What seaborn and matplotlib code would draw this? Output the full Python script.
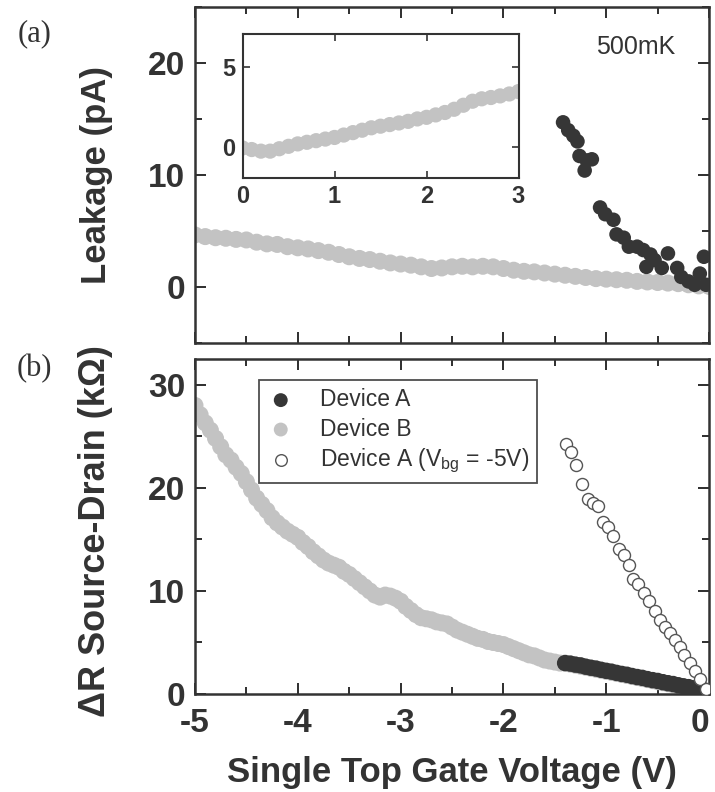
import numpy as np
import matplotlib
matplotlib.use("Agg")
import matplotlib.pyplot as plt
from matplotlib.ticker import MultipleLocator
import seaborn as sns

# ---- data ----
# (a) leakage, device B (gray band)
leak_b_x = np.linspace(-5, 0, 51)
leak_b_y = [4.65, 4.5, 4.4, 4.35, 4.25, 4.2, 4.0, 3.85, 3.8, 3.6,
            3.5, 3.4, 3.25, 3.1, 2.9, 2.7, 2.55, 2.45, 2.3, 2.15,
            2.05, 1.95, 1.8, 1.65, 1.7, 1.8, 1.85, 1.8, 1.85, 1.8,
            1.65, 1.5, 1.4, 1.35, 1.25, 1.15, 1.05, 0.95, 0.85, 0.75,
            0.7, 0.65, 0.6, 0.5, 0.45, 0.4, 0.35, 0.3, 0.2, 0.1, 0.05]

# (a) leakage, device A (dark dots)
leak_a_x = [-1.42, -1.37, -1.32, -1.28, -1.26, -1.19, -1.14, -1.21, -1.06, -1.01,
            -0.93, -0.90, -0.83, -0.78, -0.70, -0.64, -0.57, -0.61, -0.53, -0.46,
            -0.40, -0.31, -0.27, -0.20, -0.14, -0.09, -0.05, -0.03]
leak_a_y = [14.7, 14.0, 13.5, 13.0, 11.7, 11.3, 11.4, 10.4, 7.1, 6.5,
            6.0, 4.7, 4.4, 3.6, 3.6, 3.3, 2.9, 1.8, 2.4, 1.7,
            3.0, 1.7, 0.9, 0.5, 0.2, 1.2, 2.7, 0.2]

# inset: device B leakage at positive gate voltage
ins_x = np.linspace(0, 3, 31)
ins_y = [-0.05, -0.15, -0.25, -0.25, -0.1, 0.05, 0.2, 0.3, 0.4, 0.5,
         0.6, 0.75, 0.9, 1.05, 1.2, 1.3, 1.4, 1.5, 1.6, 1.75,
         1.85, 2.0, 2.15, 2.35, 2.6, 2.85, 3.0, 3.08, 3.18, 3.3, 3.45]

# (b) resistance change, device B
res_b_x = np.linspace(-5, 0, 101)
res_b_y = [28.0, 27.1, 26.3, 25.6, 24.8, 24.0, 23.2, 22.7, 22.0, 21.4,
           20.6, 19.8, 19.0, 18.4, 17.8, 17.1, 16.6, 16.2, 15.8, 15.5,
           15.2, 14.7, 14.3, 13.8, 13.4, 13.0, 12.7, 12.5, 12.3, 11.9,
           11.6, 11.2, 10.8, 10.4, 10.0, 9.6, 9.4, 9.6, 9.5, 9.3,
           9.0, 8.5, 8.1, 7.7, 7.4, 7.3, 7.2, 7.0, 6.9, 6.8,
           6.5, 6.2, 6.0, 5.8, 5.6, 5.4, 5.3, 5.1, 5.0, 4.9,
           4.8, 4.6, 4.4, 4.2, 4.0, 3.8, 3.7, 3.5, 3.3, 3.2,
           3.1, 3.0, 3.0, 2.9, 2.8, 2.7, 2.6, 2.5, 2.4, 2.3,
           2.2, 2.1, 2.0, 1.9, 1.8, 1.7, 1.6, 1.5, 1.4, 1.3,
           1.2, 1.1, 1.0, 0.9, 0.8, 0.7, 0.6, 0.5, 0.4, 0.3, 0.2]

# (b) device A
res_a_x = np.linspace(-1.4, 0, 29)
res_a_y = [3.0, 2.95, 2.85, 2.78, 2.65, 2.55, 2.47, 2.35, 2.25, 2.17,
           2.05, 1.95, 1.87, 1.75, 1.65, 1.57, 1.45, 1.35, 1.27, 1.15,
           1.05, 0.97, 0.85, 0.75, 0.67, 0.55, 0.45, 0.37, 0.25]

# (b) device A, Vbg = -5 V (open circles)
res_a5_x = [-1.39, -1.34, -1.29, -1.24, -1.18, -1.13, -1.08, -1.03, -0.98, -0.93,
            -0.88, -0.83, -0.78, -0.74, -0.69, -0.63, -0.58, -0.53, -0.48, -0.43,
            -0.38, -0.33, -0.28, -0.24, -0.19, -0.14, -0.09, -0.03]
res_a5_y = [24.3, 23.5, 22.2, 20.4, 18.9, 18.5, 18.2, 16.7, 16.2, 15.3,
            14.1, 13.5, 12.5, 11.2, 10.7, 9.8, 9.0, 8.1, 7.2, 6.5,
            5.9, 5.2, 4.6, 3.8, 3.0, 2.2, 1.5, 0.5]

x_ticks = [-5, -4, -3, -2, -1, 0]

DARK = "#363636"
GRAY = "#c3c3c3"
TXT = "#333333"

sns.set_style("ticks")
plt.rcParams["font.family"] = ["Liberation Sans", "DejaVu Sans"]
plt.rcParams["mathtext.fontset"] = "custom"
plt.rcParams["mathtext.rm"] = "Liberation Sans"
plt.rcParams["mathtext.default"] = "regular"
plt.rcParams["axes.unicode_minus"] = False
plt.rcParams["text.color"] = TXT
plt.rcParams["axes.labelcolor"] = TXT
plt.rcParams["xtick.color"] = TXT
plt.rcParams["ytick.color"] = TXT

fig = plt.figure(figsize=(7.15, 7.92), dpi=100)
ax_a = fig.add_axes([0.2727, 0.5669, 0.719, 0.4243])
ax_b = fig.add_axes([0.2727, 0.1237, 0.719, 0.4230])
ax_in = fig.add_axes([0.3392, 0.7756, 0.386, 0.181])


def style_axes(ax, lw=1.8, maj=8, mnr=5, fs=24, pad=7):
    for sp in ax.spines.values():
        sp.set_linewidth(lw)
        sp.set_color(TXT)
        sp.set_visible(True)
    ax.tick_params(which="both", direction="in", top=True, right=True,
                   width=lw * 0.8, color=TXT)
    ax.tick_params(which="major", length=maj, labelsize=fs, pad=pad)
    ax.tick_params(which="minor", length=mnr)
    for lab in ax.get_xticklabels() + ax.get_yticklabels():
        lab.set_fontweight("bold")


# ---- panel (a) ----
sns.scatterplot(x=leak_b_x, y=leak_b_y, ax=ax_a, color=GRAY, s=150,
                edgecolor="none", linewidth=0, zorder=2)
sns.scatterplot(x=leak_a_x, y=leak_a_y, ax=ax_a, color=DARK, s=110,
                edgecolor="none", linewidth=0, zorder=3)
ax_a.set_xlim(-5, 0)
ax_a.set_ylim(-5, 25)
ax_a.set_xticks(x_ticks)
ax_a.xaxis.set_minor_locator(MultipleLocator(0.5))
ax_a.set_yticks([0, 10, 20])
ax_a.yaxis.set_minor_locator(MultipleLocator(5))
ax_a.set_xticklabels([])
style_axes(ax_a)
ax_a.set_xlabel("")
ax_a.set_ylabel("Leakage (pA)", fontsize=25, fontweight="bold")
ax_a.yaxis.set_label_coords(-0.16, 0.5)
ax_a.text(0.858, 0.881, "500mK", transform=ax_a.transAxes, fontsize=18,
          ha="center", va="center", color=TXT)

# ---- inset ----
sns.scatterplot(x=ins_x, y=ins_y, ax=ax_in, color=GRAY, s=120,
                edgecolor="none", linewidth=0)
ax_in.set_xlim(0, 3)
ax_in.set_ylim(-1.9, 7)
ax_in.set_xticks([0, 1, 2, 3])
ax_in.set_yticks([0, 5])
style_axes(ax_in, lw=1.5, maj=5, fs=17, pad=5)
ax_in.set_xlabel("")
ax_in.set_ylabel("")

# ---- panel (b) ----
sns.scatterplot(x=res_b_x, y=res_b_y, ax=ax_b, color=GRAY, s=150,
                edgecolor="none", linewidth=0, zorder=2, label="Device B")
sns.scatterplot(x=res_a_x, y=res_a_y, ax=ax_b, color=DARK, s=140,
                edgecolor="none", linewidth=0, zorder=3, label="Device A")
sns.scatterplot(x=res_a5_x, y=res_a5_y, ax=ax_b, color="white", s=75,
                edgecolor="#555555", linewidth=1.0, zorder=4,
                label="Device A (V$_{bg}$ = -5V)")
ax_b.set_xlim(-5, 0)
ax_b.set_ylim(0, 32.5)
ax_b.set_xticks(x_ticks)
ax_b.xaxis.set_minor_locator(MultipleLocator(0.5))
ax_b.set_yticks([0, 10, 20, 30])
ax_b.yaxis.set_minor_locator(MultipleLocator(5))
style_axes(ax_b)
ax_b.tick_params(axis="x", which="major", pad=10)
# keep the last label ("0") inside the figure like the reference
last_tick = ax_b.xaxis.get_major_ticks()[-1]
last_tick.label1.set_horizontalalignment("right")
last_tick.label1.set_fontweight("bold")
ax_b.set_xlabel("Single Top Gate Voltage (V)", fontsize=25, fontweight="bold")
ax_b.xaxis.set_label_coords(0.5, -0.185)
ax_b.set_ylabel("\u0394R Source-Drain (k\u03a9)", fontsize=26, fontweight="bold")
ax_b.yaxis.set_label_coords(-0.16, 0.487)

h, l = ax_b.get_legend_handles_labels()
order = [1, 0, 2]
leg = ax_b.legend([h[i] for i in order], [l[i] for i in order],
                  loc="upper left", bbox_to_anchor=(0.1245, 0.937),
                  borderaxespad=0, frameon=True, fancybox=False,
                  edgecolor="#222222", fontsize=16.5,
                  handletextpad=1.1, labelspacing=0.28, borderpad=0.35,
                  handlelength=1.2)
leg.get_frame().set_linewidth(1.3)
for hd, sz in zip(leg.legend_handles, [100, 100, 70]):
    hd.set_sizes([sz])
for t in leg.get_texts():
    t.set_color(TXT)

fig.text(0.048, 0.958, "(a)", fontsize=22, family=["Liberation Serif"],
         ha="center", va="center", color=TXT)
fig.text(0.048, 0.535, "(b)", fontsize=22, family=["Liberation Serif"],
         ha="center", va="center", color=TXT)

fig.savefig("out.png", dpi=100)
